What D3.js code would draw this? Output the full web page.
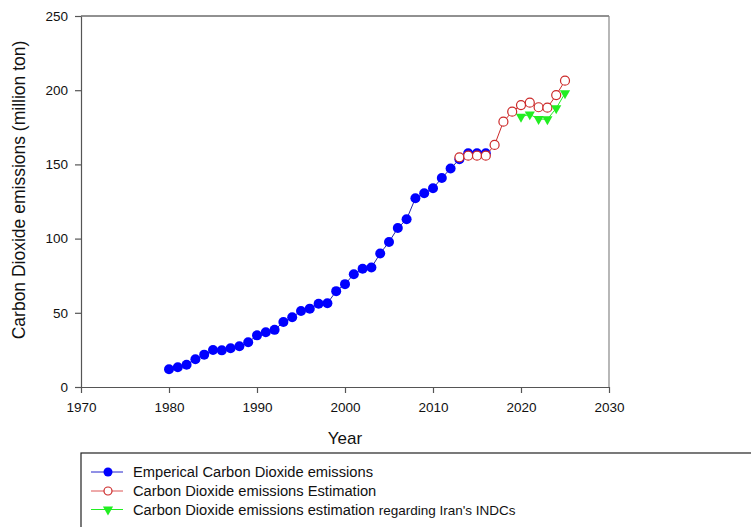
<!DOCTYPE html>
<html>
<head>
<meta charset="utf-8">
<script src="https://cdn.jsdelivr.net/npm/d3@7"></script>
<style>
html,body{margin:0;padding:0;background:#fff;}
svg{display:block;font-family:"Liberation Sans",Arial,sans-serif;}
</style>
</head>
<body>
<svg id="chart" width="751" height="527"></svg>
<script>
const empYears = [1980,1981,1982,1983,1984,1985,1986,1987,1988,1989,1990,1991,1992,1993,1994,1995,1996,1997,1998,1999,2000,2001,2002,2003,2004,2005,2006,2007,2008,2009,2010,2011,2012,2013,2014,2015,2016];
const empValues = [12.0,13.3,15.0,18.7,21.8,24.9,24.7,26.1,27.4,30.1,34.8,36.9,38.5,43.8,47.0,51.2,52.8,56.1,56.4,64.6,69.3,76.0,79.7,80.5,90.0,97.7,107.1,113.0,127.2,130.5,133.9,140.8,147.2,153.5,157.5,157.5,157.5];
const estYears = [2013,2014,2015,2016,2017,2018,2019,2020,2021,2022,2023,2024,2025];
const estValues = [154.8,155.9,155.9,155.9,163.1,178.8,185.5,190.0,191.6,188.5,188.2,196.7,206.4];
const indcYears = [2020,2021,2022,2023,2024,2025];
const indcValues = [182.1,183.7,180.6,180.4,187.8,197.9];
const xTicks = [1970,1980,1990,2000,2010,2020,2030];
const yTicks = [0,50,100,150,200,250];
const legendLabels = ["Emperical Carbon Dioxide emissions","Carbon Dioxide emissions Estimation","Carbon Dioxide emissions estimation"];
const legendSuffix = "regarding Iran's INDCs";

const svg = d3.select("#chart");
const x = d3.scaleLinear().domain([1970,2030]).range([81,609]);
const y = d3.scaleLinear().domain([0,250]).range([387,16]);

// frame top & right
svg.append("line").attr("x1",81).attr("x2",609).attr("y1",16).attr("y2",16).attr("stroke","#222").attr("stroke-width",1);
svg.append("line").attr("x1",609).attr("x2",609).attr("y1",16).attr("y2",387).attr("stroke","#888").attr("stroke-width",1.2);

const xAxis = svg.append("g").attr("transform","translate(0,387)")
  .call(d3.axisBottom(x).tickValues(xTicks).tickFormat(d3.format("d")).tickSize(6).tickSizeOuter(0));
const yAxis = svg.append("g").attr("transform","translate(81,0)")
  .call(d3.axisLeft(y).tickValues(yTicks).tickSize(6).tickSizeOuter(0));
[xAxis,yAxis].forEach(g=>{
  g.selectAll("path,line").attr("stroke","#555").attr("stroke-width",1.2);
  g.selectAll("text").attr("font-size","13.5px").attr("fill","#111").attr("font-family","'Liberation Sans',Arial,sans-serif");
});
xAxis.selectAll("text").attr("dy","1.15em");
yAxis.selectAll("text").attr("x",-13);

svg.append("text").attr("x",345).attr("y",444).attr("text-anchor","middle").attr("font-size","17px").attr("fill","#111").text("Year");
svg.append("text").attr("transform","translate(25,190) rotate(-90)").attr("text-anchor","middle").attr("font-size","17.5px").attr("fill","#111").text("Carbon Dioxide emissions (million ton)");

const line = d3.line().x(d=>x(d[0])).y(d=>y(d[1]));
const emp = empYears.map((yr,i)=>[yr,empValues[i]]);
const est = estYears.map((yr,i)=>[yr,estValues[i]]);
const indc = indcYears.map((yr,i)=>[yr,indcValues[i]]);

const blue="#0000ff", red="#cc2a2a", green="#22ee22";
svg.append("path").datum(emp).attr("d",line).attr("fill","none").attr("stroke","#2222aa").attr("stroke-width",1);
svg.selectAll(".emp").data(emp).join("circle").attr("cx",d=>x(d[0])).attr("cy",d=>y(d[1])).attr("r",5).attr("fill",blue);

svg.append("path").datum(est).attr("d",line).attr("fill","none").attr("stroke",red).attr("stroke-width",1);
svg.selectAll(".est").data(est).join("circle").attr("cx",d=>x(d[0])).attr("cy",d=>y(d[1])).attr("r",4.5).attr("fill","#fff").attr("stroke",red).attr("stroke-width",1.2);

const tri = d3.symbol().type(d3.symbolTriangle).size(45);
svg.append("path").datum(indc).attr("d",line).attr("fill","none").attr("stroke",green).attr("stroke-width",1);
svg.selectAll(".indc").data(indc).join("path").attr("d",tri).attr("transform",d=>`translate(${x(d[0])},${y(d[1])}) rotate(180)`).attr("fill",green);

// legend
svg.append("rect").attr("x",81).attr("y",453).attr("width",700).attr("height",100).attr("fill","none").attr("stroke","#222").attr("stroke-width",1.2);
const rows=[472,491,509.5];
const styles=[{c:"#2222cc"},{c:"#dd5555"},{c:green}];
rows.forEach((ry,i)=>{
  svg.append("line").attr("x1",91).attr("x2",123).attr("y1",ry).attr("y2",ry).attr("stroke",styles[i].c).attr("stroke-width",1);
  if(i===0) svg.append("circle").attr("cx",108).attr("cy",ry).attr("r",4.5).attr("fill",blue);
  if(i===1) svg.append("circle").attr("cx",108).attr("cy",ry).attr("r",4).attr("fill","#fff").attr("stroke",red).attr("stroke-width",1.2);
  if(i===2) svg.append("path").attr("d",tri).attr("transform",`translate(108,${ry}) rotate(180)`).attr("fill",green);
  const t=svg.append("text").attr("x",133).attr("y",ry+5).attr("font-size","14.7px").attr("fill","#111").text(legendLabels[i]);
  if(i===2) t.append("tspan").attr("font-size","13.5px").attr("dx",4).text(legendSuffix);
});
</script>
</body>
</html>
